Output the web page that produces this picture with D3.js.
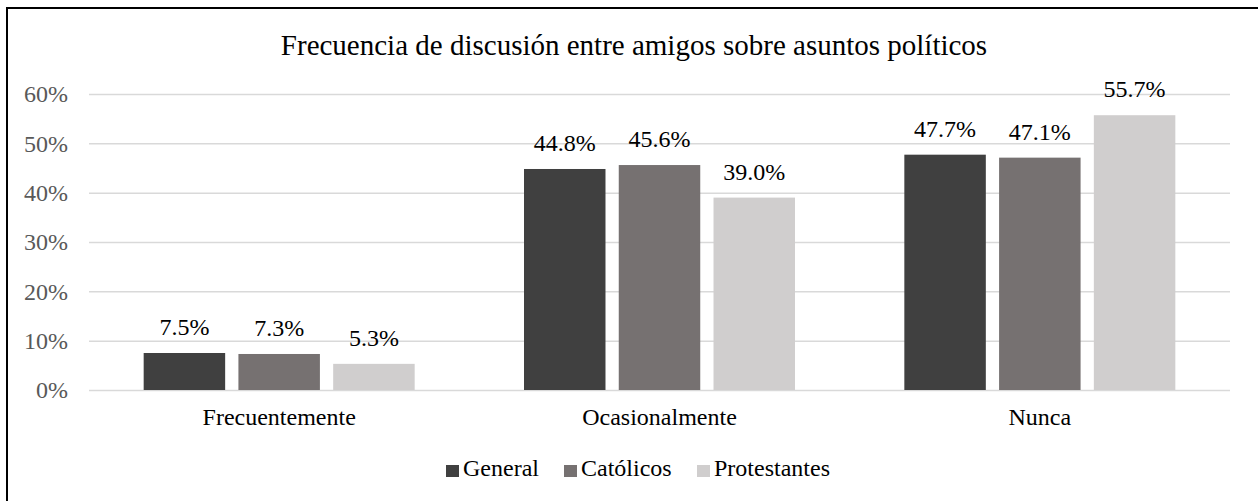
<!DOCTYPE html>
<html>
<head>
<meta charset="utf-8">
<script src="https://cdn.jsdelivr.net/npm/d3@7"></script>
<style>
  body { margin: 0; background: #fff; }
  svg text { font-family: "Liberation Serif", "Times New Roman", serif !important; }
</style>
</head>
<body>
<div id="chart"></div>
<script>
const categories = ["Frecuentemente", "Ocasionalmente", "Nunca"];
const seriesNames = ["General", "Católicos", "Protestantes"];
const general = [7.5, 44.8, 47.7];
const catolicos = [7.3, 45.6, 47.1];
const protestantes = [5.3, 39.0, 55.7];
const yTicks = [0, 10, 20, 30, 40, 50, 60];
const colors = ["#404040", "#767171", "#d0cece"];

const W = 1258, H = 501;
const margin = { top: 94, right: 28, bottom: 111, left: 89 };
const width = W - margin.left - margin.right;
const height = H - margin.top - margin.bottom;

const svg = d3.select("#chart").append("svg")
    .attr("width", W)
    .attr("height", H);

// outer frame
svg.append("rect")
    .attr("x", 7).attr("y", 8)
    .attr("width", W + 10).attr("height", H + 10)
    .attr("fill", "none")
    .attr("stroke", "#000")
    .attr("stroke-width", 2);

svg.append("text")
    .attr("x", 634).attr("y", 55)
    .attr("text-anchor", "middle")
    .attr("font-size", 29)
    .attr("fill", "#000")
    .text("Frecuencia de discusión entre amigos sobre asuntos políticos");

const g = svg.append("g").attr("transform", `translate(${margin.left},${margin.top})`);

const x0 = d3.scaleBand().domain(categories).range([0, width]);
const x1 = d3.scaleBand().domain(seriesNames).range([0, 271]).paddingInner(0.14);
const y = d3.scaleLinear().domain([0, 60]).range([height, 0]);

// grid
g.append("g")
    .call(d3.axisLeft(y).tickValues(yTicks).tickSize(-width).tickFormat(""))
    .call(s => s.select(".domain").remove())
    .call(s => s.selectAll("line").attr("stroke", "#d9d9d9").attr("stroke-width", 1.5));

// y labels
g.append("g")
    .call(d3.axisLeft(y).tickValues(yTicks).tickSize(0).tickPadding(21).tickFormat(d => d + "%"))
    .call(s => s.select(".domain").remove())
    .call(s => s.selectAll("text")
        .attr("font-size", 24)
        .attr("fill", "#595959"));

const series = seriesNames.map((name, i) => ({
    name,
    values: [general, catolicos, protestantes][i]
}));

const groups = g.selectAll(".cat")
    .data(categories)
    .join("g")
    .attr("transform", d => `translate(${x0(d) + (x0.bandwidth() - 271) / 2},0)`);

groups.selectAll("rect")
    .data((c, ci) => series.map((s, si) => ({ name: s.name, v: s.values[ci], si })))
    .join("rect")
    .attr("x", d => x1(d.name))
    .attr("width", x1.bandwidth())
    .attr("y", d => y(d.v))
    .attr("height", d => y(0) - y(d.v))
    .attr("fill", d => colors[d.si]);

groups.selectAll(".lbl")
    .data((c, ci) => series.map((s, si) => ({ name: s.name, v: s.values[ci], si })))
    .join("text")
    .attr("class", "lbl")
    .attr("x", d => x1(d.name) + x1.bandwidth() / 2)
    .attr("y", d => y(d.v) - 18)
    .attr("text-anchor", "middle")
    .attr("font-size", 24)
    .attr("fill", "#000")
    .text(d => d.v.toFixed(1) + "%");

// x labels
g.append("g")
    .attr("transform", `translate(0,${height})`)
    .call(d3.axisBottom(x0).tickSize(0).tickPadding(18))
    .call(s => s.select(".domain").remove())
    .call(s => s.selectAll("text")
        .attr("font-size", 24)
        .attr("fill", "#000"));

// legend
const legendX = [446, 564, 697];
const legend = svg.append("g").selectAll("g")
    .data(seriesNames)
    .join("g")
    .attr("transform", (d, i) => `translate(${legendX[i]},465)`);
legend.append("rect")
    .attr("width", 13).attr("height", 12)
    .attr("fill", (d, i) => colors[i]);
legend.append("text")
    .attr("x", 17).attr("y", 11)
    .attr("font-size", 24)
    .attr("fill", "#000")
    .text(d => d);
</script>
</body>
</html>
